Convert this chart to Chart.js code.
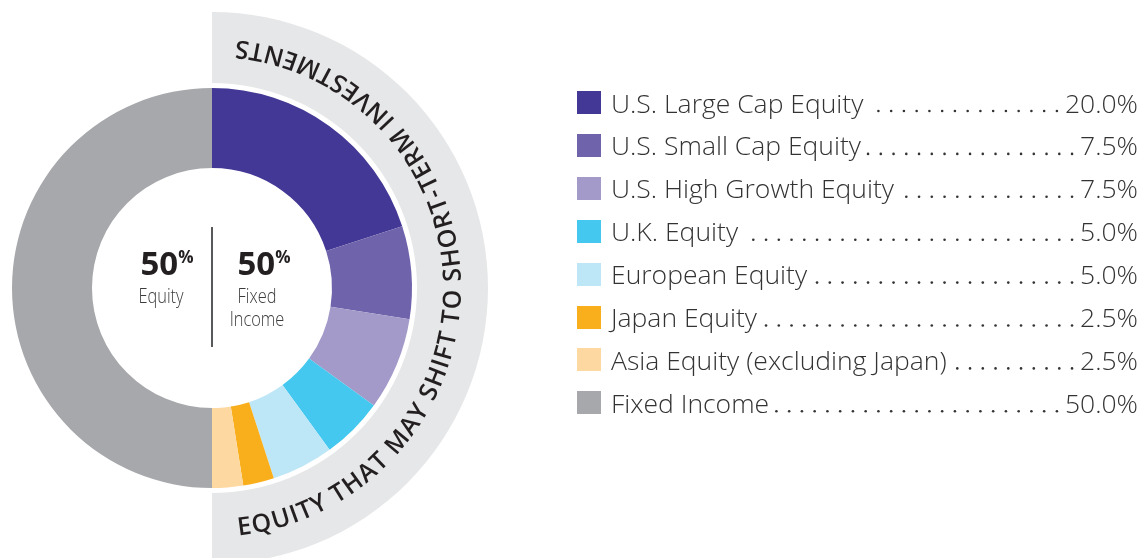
<!DOCTYPE html>
<html>
<head>
<meta charset="utf-8">
<title>Asset allocation</title>
<script src="https://cdn.jsdelivr.net/npm/chart.js@4.4.0/dist/chart.umd.min.js"></script>
<style>
    html, body { margin: 0; padding: 0; background: #ffffff; }
    #wrap { position: relative; width: 1147px; height: 558px; }
</style>
</head>
<body>
<div id="wrap"><canvas id="chart" width="1147" height="558"></canvas></div>
<script>
// Datos del gráfico
const categories = [
    'U.S. Large Cap Equity',
    'U.S. Small Cap Equity',
    'U.S. High Growth Equity',
    'U.K. Equity',
    'European Equity',
    'Japan Equity',
    'Asia Equity (excluding Japan)',
    'Fixed Income'
];
const shares = [20.0, 7.5, 7.5, 5.0, 5.0, 2.5, 2.5, 50.0];
const sliceColors = ['#433895', '#6f63ab', '#a39ac9', '#44c8ef', '#bde6f7', '#f9af1c', '#fdd8a1', '#a7a8ab'];
const equityCount = 7; // los primeros 7 son renta variable
const bandTitle = 'EQUITY THAT MAY SHIFT TO SHORT-TERM INVESTMENTS';
const centerLabels = [['Equity'], ['Fixed', 'Income']];

const FONT = "'Open Sans', 'DejaVu Sans', sans-serif";

// Banda gris semicircular detrás del donut
const bandPlugin = {
    id: 'band',
    beforeDatasetsDraw(chart) {
        const arc = chart.getDatasetMeta(0).data[0];
        if (!arc) return;
        const ctx = chart.ctx;
        const cx = arc.x, cy = arc.y, r = arc.outerRadius;
        ctx.save();
        ctx.fillStyle = '#e6e7e8';
        ctx.beginPath();
        ctx.arc(cx, cy, r + 76, -Math.PI / 2, Math.PI / 2, false);
        ctx.arc(cx, cy, r + 5, Math.PI / 2, -Math.PI / 2, true);
        ctx.closePath();
        ctx.fill();
        ctx.restore();
    },
    afterDatasetsDraw(chart) {
        const arc = chart.getDatasetMeta(0).data[0];
        if (!arc) return;
        const ctx = chart.ctx;
        const cx = arc.x, cy = arc.y;
        const rMid = arc.outerRadius + 40;
        ctx.save();
        ctx.font = '600 25px ' + FONT;
        ctx.fillStyle = '#231f20';
        ctx.textAlign = 'center';
        ctx.textBaseline = 'alphabetic';
        const chars = bandTitle.split('');
        const widths = chars.map(c => ctx.measureText(c).width);
        const sumW = widths.reduce((a, b) => a + b, 0);
        // Ajustar espaciado para cubrir el arco entre los centros de la primera y última letra
        const startDeg = 82.3, endDeg = -82.8;
        const span = (startDeg - endDeg) * Math.PI / 180 * rMid;
        const inner = sumW - widths[0] / 2 - widths[widths.length - 1] / 2;
        const ls = (span - inner) / (chars.length - 1);
        const capH = 25 * 0.714;
        let s = 0;
        chars.forEach((c, i) => {
            const pos = s + widths[i] / 2 - widths[0] / 2;
            const theta = startDeg * Math.PI / 180 - pos / rMid;
            ctx.save();
            ctx.translate(cx + rMid * Math.cos(theta), cy + rMid * Math.sin(theta));
            ctx.rotate(theta - Math.PI / 2);
            ctx.fillText(c, 0, capH / 2);
            ctx.restore();
            s += widths[i] + ls;
        });
        ctx.restore();
    }
};

// Texto central (50% / 50%) y línea divisoria
const centerPlugin = {
    id: 'centerText',
    afterDraw(chart) {
        const arc = chart.getDatasetMeta(0).data[0];
        if (!arc) return;
        const ctx = chart.ctx;
        const cx = arc.x, cy = arc.y;
        const equity = shares.slice(0, equityCount).reduce((a, b) => a + b, 0);
        const fixed = shares.slice(equityCount).reduce((a, b) => a + b, 0);
        const groups = [
            { value: equity, gx: cx - 45, lx: cx - 51, lines: centerLabels[0] },
            { value: fixed, gx: cx + 52, lx: cx + 45, lines: centerLabels[1] }
        ];
        ctx.save();
        ctx.strokeStyle = '#58595b';
        ctx.lineWidth = 2;
        ctx.beginPath();
        ctx.moveTo(cx, cy - 61);
        ctx.lineTo(cx, cy + 59);
        ctx.stroke();

        groups.forEach(g => {
            const num = String(Math.round(g.value));
            ctx.font = 'bold 33px ' + FONT;
            const wNum = ctx.measureText(num).width;
            ctx.font = 'bold 17px ' + FONT;
            const wPct = ctx.measureText('%').width;
            const left = g.gx - (wNum + wPct) / 2;
            ctx.fillStyle = '#231f20';
            ctx.textAlign = 'left';
            ctx.textBaseline = 'alphabetic';
            ctx.font = 'bold 33px ' + FONT;
            ctx.fillText(num, left, cy - 13);
            ctx.font = 'bold 17px ' + FONT;
            ctx.fillText('%', left + wNum, cy - 25);

            ctx.fillStyle = '#3b3b3b';
            ctx.font = '300 21px ' + FONT;
            ctx.textAlign = 'center';
            g.lines.forEach((line, i) => {
                ctx.save();
                ctx.translate(g.lx, cy + 15 + i * 23);
                ctx.scale(0.78, 1);
                ctx.fillText(line, 0, 0);
                ctx.restore();
            });
        });
        ctx.restore();
    }
};

// Leyenda con puntos guía y porcentajes
const legendPlugin = {
    id: 'dotLegend',
    afterDraw(chart) {
        const ctx = chart.ctx;
        const boxX = 577, boxW = 24, boxH = 23;
        const textX = 611, valueRight = 1138;
        const rowTop = 102.5, rowGap = 42.9;
        ctx.save();
        categories.forEach((cat, i) => {
            const yc = rowTop + i * rowGap;
            ctx.fillStyle = sliceColors[i];
            ctx.fillRect(boxX, Math.round(yc - boxH / 2), boxW, boxH);

            ctx.font = '300 26.5px ' + FONT;
            ctx.fillStyle = '#333333';
            ctx.textBaseline = 'alphabetic';
            ctx.textAlign = 'left';
            ctx.fillText(cat, textX, yc + 10);
            const labelEnd = textX + ctx.measureText(cat).width;

            const val = shares[i].toFixed(1) + '%';
            ctx.textAlign = 'right';
            ctx.fillText(val, valueRight, yc + 10);
            const valueLeft = valueRight - ctx.measureText(val).width;

            // puntos guía anclados al valor
            for (let x = valueLeft - 8; x > labelEnd + 4; x -= 12.75) {
                ctx.beginPath();
                ctx.arc(x, yc + 8.5, 1.3, 0, Math.PI * 2);
                ctx.fill();
            }
        });
        ctx.restore();
    }
};

const chart = new Chart(document.getElementById('chart'), {
    type: 'doughnut',
    data: {
        labels: categories,
        datasets: [{
            data: shares,
            backgroundColor: sliceColors,
            borderWidth: 0,
            hoverOffset: 0
        }]
    },
    options: {
        responsive: false,
        animation: false,
        devicePixelRatio: 1,
        radius: 200,
        cutout: '60%',
        layout: { padding: { left: 12, right: 735, top: 88, bottom: 70 } },
        plugins: {
            legend: { display: false },
            tooltip: { enabled: false }
        }
    },
    plugins: [bandPlugin, centerPlugin, legendPlugin]
});
</script>
</body>
</html>
